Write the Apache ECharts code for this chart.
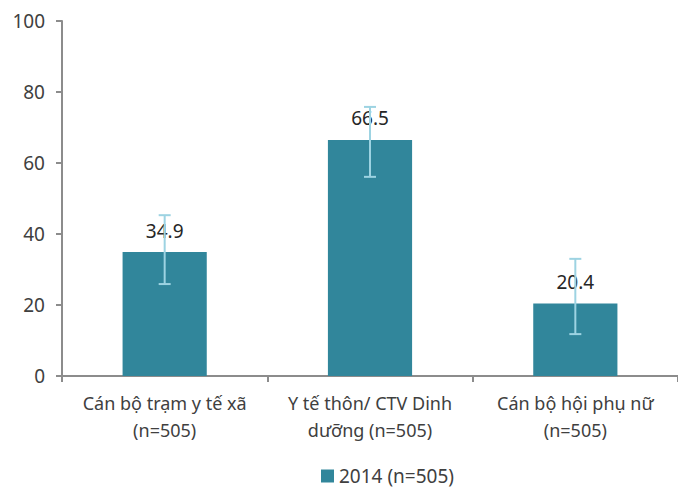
<!DOCTYPE html>
<html>
<head>
<meta charset="utf-8">
<script src="https://cdn.jsdelivr.net/npm/echarts@6/dist/echarts.min.js"></script>
<style>
  html, body { margin: 0; padding: 0; background: #fff; }
  #chart { width: 678px; height: 488px; }
</style>
</head>
<body>
<div id="chart"></div>
<script>
var categories = ['Cán bộ trạm y tế xã\n(n=505)', 'Y tế thôn/ CTV Dinh\ndưỡng (n=505)', 'Cán bộ hội phụ nữ\n(n=505)'];
var values = [34.9, 66.5, 20.4];
var errLow = [25.9, 56.1, 11.8];
var errHigh = [45.3, 75.8, 33.0];
var seriesName = '2014 (n=505)';

var barColor = '#31869b';
var errColor = '#9dd3e2';
var textColor = '#404040';
var axisColor = '#8c8c8c';
var font = '"Noto Sans", "DejaVu Sans", sans-serif';

var chart = echarts.init(document.getElementById('chart'), null, { renderer: 'svg' });

var errData = categories.map(function(_, i) { return [i, errLow[i], errHigh[i]]; });

chart.setOption({
  animation: false,
  textStyle: { fontFamily: font },
  legend: {
    data: [seriesName],
    top: 466,
    left: 321,
    padding: 0,
    icon: 'rect',
    itemWidth: 13, itemHeight: 13, itemGap: 4,
    textStyle: { color: textColor, fontSize: 19, lineHeight: 20, fontFamily: font }
  },
  grid: { left: 62, right: -3, top: 21, bottom: 112 },
  xAxis: {
    type: 'category',
    data: categories,
    axisLine: { lineStyle: { color: axisColor, width: 2 } },
    axisTick: { show: true, length: 6, lineStyle: { color: axisColor, width: 2 } },
    axisLabel: { color: textColor, fontSize: 18, lineHeight: 27, margin: 13, fontFamily: font, interval: 0 }
  },
  yAxis: {
    type: 'value',
    min: 0, max: 100, interval: 20,
    axisLine: { show: true, lineStyle: { color: axisColor, width: 2 } },
    axisTick: { show: true, length: 6, lineStyle: { color: axisColor, width: 2 } },
    splitLine: { show: false },
    axisLabel: { color: textColor, fontSize: 19, margin: 17, fontFamily: font }
  },
  series: [
    {
      name: seriesName,
      type: 'bar',
      data: values,
      barWidth: '41%',
      itemStyle: { color: barColor },
      label: {
        show: true, position: 'top', distance: 12,
        color: '#262626', fontSize: 19, fontFamily: font
      }
    },
    {
      type: 'custom',
      data: errData,
      z: 10,
      renderItem: function(params, api) {
        var x = api.value(0);
        var lo = api.coord([x, api.value(1)]);
        var hi = api.coord([x, api.value(2)]);
        var hw = 6;
        var st = { stroke: errColor, lineWidth: 2 };
        return {
          type: 'group',
          children: [
            { type: 'line', shape: { x1: lo[0], y1: lo[1], x2: hi[0], y2: hi[1] }, style: st },
            { type: 'line', shape: { x1: hi[0] - hw, y1: hi[1], x2: hi[0] + hw, y2: hi[1] }, style: st },
            { type: 'line', shape: { x1: lo[0] - hw, y1: lo[1], x2: lo[0] + hw, y2: lo[1] }, style: st }
          ]
        };
      }
    }
  ]
});
</script>
</body>
</html>
